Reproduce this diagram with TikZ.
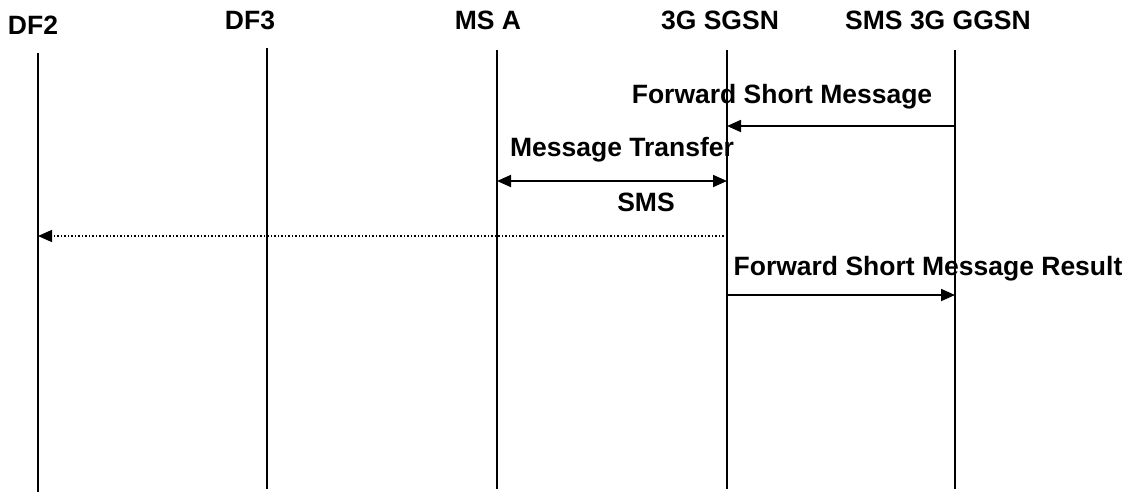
\documentclass[tikz,border=0pt]{standalone}
\usepackage{fontspec}
\setmainfont{Liberation Sans}
\usetikzlibrary{arrows.meta}
\begin{document}
\begin{tikzpicture}[x=1pt, y=-1pt]
        \tikzstyle{entity}=[font=\fontsize{26.5}{31}\selectfont\bfseries, inner sep=0pt]
        \tikzstyle{msglabel}=[font=\fontsize{26.5}{31}\selectfont\bfseries, inner sep=0pt]
        \tikzstyle{lifeline}=[line width=1.4pt]
        \tikzstyle{msg}=[line width=1.8pt, -{Triangle[length=14pt, width=12pt]}]
        \useasboundingbox (0,0) rectangle (1131,493);
        % Entities
        \node[entity] (df2) at (33,25) {DF2};
        \node[entity] (df3) at (250,20) {DF3};
        \node[entity] (msa) at (488,20) {MS A};
        \node[entity] (sgsn) at (720,20) {3G SGSN};
        \node[entity] (ggsn) at (938,20) {SMS 3G GGSN};
        % Lifelines
        \coordinate (df2top) at (38,53);
        \coordinate (df2bot) at (38,492);
        \coordinate (df3top) at (267,48);
        \coordinate (df3bot) at (267,489);
        \coordinate (msatop) at (497,50);
        \coordinate (msabot) at (497,489);
        \coordinate (sgsntop) at (727,50);
        \coordinate (sgsnbot) at (727,489);
        \coordinate (ggsntop) at (955,50);
        \coordinate (ggsnbot) at (955,489);
        \draw[lifeline] (df2top) -- (df2bot);
        \draw[lifeline] (df3top) -- (df3bot);
        \draw[lifeline] (msatop) -- (msabot);
        \draw[lifeline] (sgsntop) -- (sgsnbot);
        \draw[lifeline] (ggsntop) -- (ggsnbot);
        % Messages
        \coordinate (fsmfrom) at (ggsntop |- 0,126);
        \coordinate (fsmto) at (sgsntop |- 0,126);
        \draw[msg] (fsmfrom) -- (fsmto);
        \node[msglabel] (fsm) at (782,97) {Forward Short Message};
        \coordinate (mtfrom) at (msatop |- 0,181);
        \coordinate (mtto) at (sgsntop |- 0,181);
        \draw[msg, {Triangle[length=14pt, width=12pt]}-{Triangle[length=14pt, width=12pt]}] (mtfrom) -- (mtto);
        \node[msglabel] (mt) at (622,150) {Message Transfer};
        \node[msglabel] (sms) at (646,202) {SMS};
        \coordinate (iri) at (sgsntop |- 0,236);
        \coordinate (irito) at (df2top |- 0,236);
        \draw[msg, line width=1.5pt, dotted] (iri) -- (irito);
        \coordinate (fsmrfrom) at (sgsntop |- 0,295);
        \coordinate (fsmrto) at (ggsntop |- 0,295);
        \draw[msg] (fsmrfrom) -- (fsmrto);
        \node[msglabel] (fsmr) at (928,269) {Forward Short Message Result};
    \end{tikzpicture}
\end{document}
